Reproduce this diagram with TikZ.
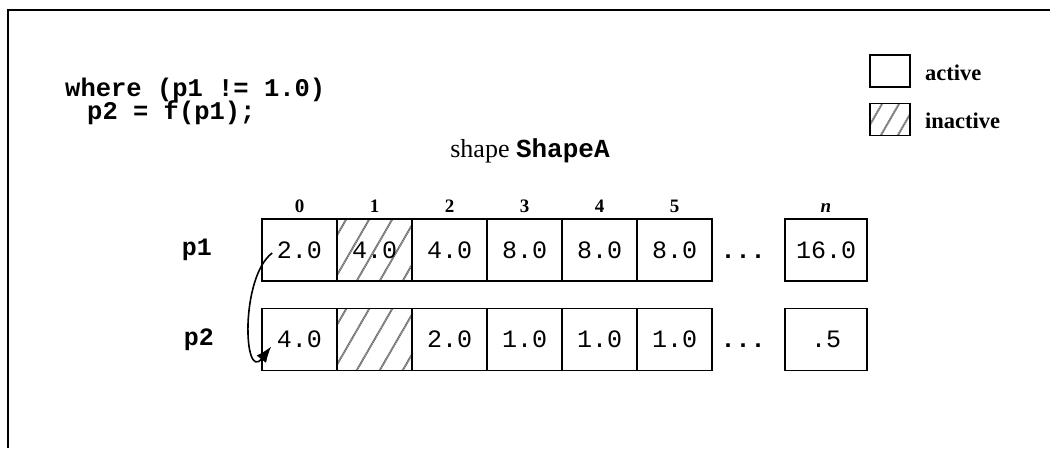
\documentclass[tikz,border=0pt]{standalone}
\usepackage{fontspec}
\setmainfont{Liberation Serif}
\newfontfamily\mono{Liberation Mono}
\usetikzlibrary{arrows.meta,calc}
\begin{document}
\begin{tikzpicture}[x=1pt,y=1pt,
  hatchline/.style={black!55, line width=2pt, dash pattern=on 1.5pt off 0.5pt},
  hatched/.style={path picture={\foreach \k in {-6,...,6}{\draw[hatchline] ($(path picture bounding box.center)+(\k*#1,0)+(240:80)$) -- ++(60:160);}}},
  cell/.style={draw, line width=1.6pt, minimum width=75pt, minimum height=62pt, inner sep=0pt, font=\mono\fontsize{25}{25}\selectfont},
  collabel/.style={font=\bfseries\fontsize{19}{19}\selectfont, anchor=base, inner sep=0pt},
  rowlabel/.style={font=\mono\bfseries\fontsize{25}{25}\selectfont, inner sep=0pt},
  code/.style={font=\mono\bfseries\fontsize{25.5}{25}\selectfont, anchor=base west, inner sep=0pt},
  legtext/.style={font=\bfseries\fontsize{22.5}{22.5}\selectfont, anchor=base west, inner sep=0pt},
  legbox/.style={draw, line width=1.6pt, minimum width=40pt, minimum height=32pt, inner sep=0pt},
  frame/.style={line width=2.2pt},
  dotsstyle/.style={font=\mono\bfseries\fontsize{25}{25}\selectfont, inner sep=0pt},
  conn/.style={line width=1.6pt, -{Latex[length=16pt,width=12pt]}}
]
\useasboundingbox (0,0) rectangle (1050,-448);
\draw[frame] (8,-448) -- (8,-10) -- (1050,-10);

% code
\node[code] (c1) at (65,-96) {where (p1 != 1.0)};
\node[code] (c2) at (87,-119) {p2 = f(p1);};

% legend
\node[legbox] (la) at (890,-71) {};
\node[legbox, hatched=17] (li) at (890,-119.5) {};
\node[legtext] (lat) at (925,-80) {active};
\node[legtext] (lit) at (925,-128) {inactive};

% title
\node[anchor=base, inner sep=0pt] (title) at (530,-157) {\fontsize{26}{26}\selectfont shape {\mono\bfseries ShapeA}};

% column labels
\foreach \i/\x in {0/299.5,1/374.5,2/449.5,3/524.5,4/599.5,5/674.5}{
  \node[collabel] (col\i) at (\x,-212) {\i};
}
\node[collabel] (coln) at (826,-212) {\textit{n}};

% row labels
\node[rowlabel] (r1) at (197,-250) {p1};
\node[rowlabel] (r2) at (199,-340) {p2};

% row p1
\node[cell] (a0) at (299.5,-250) {2.0};
\node[cell, hatched=23] (a1) at (374.5,-250) {4.0};
\node[cell] (a2) at (449.5,-250) {4.0};
\node[cell] (a3) at (524.5,-250) {8.0};
\node[cell] (a4) at (599.5,-250) {8.0};
\node[cell] (a5) at (674.5,-250) {8.0};
\node[dotsstyle] (ad) at (743,-250) {\vphantom{0}...};
\node[cell, minimum width=82pt] (an) at (826,-250) {16.0};

% row p2
\node[cell] (b0) at (299.5,-339.5) {4.0};
\node[cell, hatched=23] (b1) at (374.5,-339.5) {};
\node[cell] (b2) at (449.5,-339.5) {2.0};
\node[cell] (b3) at (524.5,-339.5) {1.0};
\node[cell] (b4) at (599.5,-339.5) {1.0};
\node[cell] (b5) at (674.5,-339.5) {1.0};
\node[dotsstyle] (bd) at (743,-339.5) {\vphantom{0}...};
\node[cell, minimum width=82pt] (bn) at (826,-339.5) {.5};

% arrow
\coordinate (s) at ($(a0.west)+(11,-3)$);
\coordinate (t) at ($(b0.west)+(10,-7)$);
\draw[conn] (s) .. controls ($(s)+(-32,-24)$) and ($(t)+(-28,-36)$) .. (t);
\end{tikzpicture}
\end{document}
